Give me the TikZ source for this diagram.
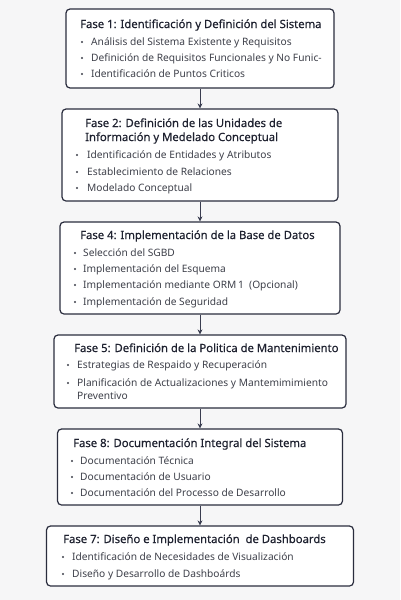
\documentclass[tikz,border=0pt]{standalone}
\usepackage{fontspec}
\setmainfont{Noto Sans}
\newfontfamily\phasefont[FakeBold=0.35]{Noto Sans}
\usetikzlibrary{arrows.meta}
\definecolor{bg}{HTML}{F6F6F7}
\definecolor{frame}{HTML}{2A2D3E}
\definecolor{titlec}{HTML}{1F2230}
\definecolor{itemc}{HTML}{3E404A}
\definecolor{arrc}{HTML}{3A3D50}
\tikzset{
  phasebox/.style={draw=frame, line width=1.2pt, fill=white, rounded corners=4pt, inner sep=0pt},
  phasetitle/.style={anchor=base west, inner sep=0pt, text=titlec, font=\phasefont\fontsize{11.3}{13}\selectfont},
  itemtext/.style={anchor=base west, inner sep=0pt, text=itemc, font=\fontsize{10.2}{12}\selectfont},
  dotmark/.style={fill=itemc},
  flow/.style={draw=arrc, line width=0.8pt, -{Stealth[length=5pt,width=5pt]}}
}
\begin{document}
\begin{tikzpicture}[x=1pt,y=-1pt]
\useasboundingbox[fill=bg] (0,0) rectangle (400,600);
% boxes
\node[phasebox, minimum width=268pt, minimum height=79pt] (b1) at (200,48.5) {};
\node[phasebox, minimum width=276pt, minimum height=92pt] (b2) at (200,155) {};
\node[phasebox, minimum width=280pt, minimum height=92pt] (b3) at (200,268) {};
\node[phasebox, minimum width=292pt, minimum height=73pt] (b4) at (200,371.5) {};
\node[phasebox, minimum width=285pt, minimum height=76pt] (b5) at (200,467) {};
\node[phasebox, minimum width=307pt, minimum height=60pt] (b6) at (200,556) {};
% arrows
\draw[flow] (b1) -- (b2);
\draw[flow] (b2) -- (b3);
\draw[flow] (b3) -- (b4);
\draw[flow] (b4) -- (b5);
\draw[flow] (b5) -- (b6);
% box 1
\node[phasetitle] (t1) at (80,28) {Fase 1: Identificación y Definición del Sistema};
\node[itemtext] (i11) at (91,45.6) {Análisis del Sistema Existente y Requisitos};
\node[itemtext] (i12) at (91,61.6) {Definición de Requisitos Funcionales y No Funic-};
\node[itemtext] (i13) at (91,77.6) {Identificación de Puntos Criticos};
\foreach \yy in {42,58,74} \fill[dotmark] (82,\yy) circle (1.2pt);
% box 2
\node[phasetitle] (t2a) at (85,127) {Fase 2: Definición de las Unidades de};
\node[phasetitle] (t2b) at (85,141) {Información y Medelado Conceptual};
\node[itemtext] (i21) at (87,158.6) {Identificación de Entidades y Atributos};
\node[itemtext] (i22) at (87,175.6) {Establecimiento de Relaciones};
\node[itemtext] (i23) at (87,191.6) {Modelado Conceptual};
\foreach \yy in {155,172,188} \fill[dotmark] (77,\yy) circle (1.2pt);
% box 3
\node[phasetitle] (t3) at (80,239) {Fase 4: Implementación de la Base de Datos};
\node[itemtext] (i31) at (83,256.6) {Selección del SGBD};
\node[itemtext] (i32) at (83,272.6) {Implementación del Esquema};
\node[itemtext] (i33) at (83,288.6) {Implementación mediante ORM\,1\ \ (Opcional)};
\node[itemtext] (i34) at (83,305.6) {Implementación de Seguridad};
\foreach \yy in {253,269,285,302} \fill[dotmark] (75,\yy) circle (1.2pt);
% box 4
\node[phasetitle] (t4) at (74,352) {Fase 5: Definición de la Politica de Mantenimiento};
\node[itemtext] (i41) at (77,368.6) {Estrategias de Respaido y Recuperación};
\node[itemtext] (i42) at (77,386.6) {Planificación de Actualizaciones y Mantemimimiento};
\node[itemtext] (i43) at (77,399.6) {Preventivo};
\foreach \yy in {365,383} \fill[dotmark] (68,\yy) circle (1.2pt);
% box 5
\node[phasetitle] (t5) at (73,447) {Fase 8: Documentación Integral del Sistema};
\node[itemtext] (i51) at (80,464.6) {Documentación Técnica};
\node[itemtext] (i52) at (80,480.6) {Documentación de Usuario};
\node[itemtext] (i53) at (80,496.6) {Documentación del Processo de Desarrollo};
\foreach \yy in {461,477,493} \fill[dotmark] (72,\yy) circle (1.2pt);
% box 6
\node[phasetitle] (t6) at (63,543) {Fase 7: Diseño e Implementación\ \ de Dashboards};
\node[itemtext] (i61) at (72,560.6) {Identificación de Necesidades de Visualización};
\node[itemtext] (i62) at (72,577.6) {Diseño y Desarrollo de Dashboárds};
\foreach \yy in {557,574} \fill[dotmark] (63,\yy) circle (1.2pt);
\end{tikzpicture}
\end{document}
